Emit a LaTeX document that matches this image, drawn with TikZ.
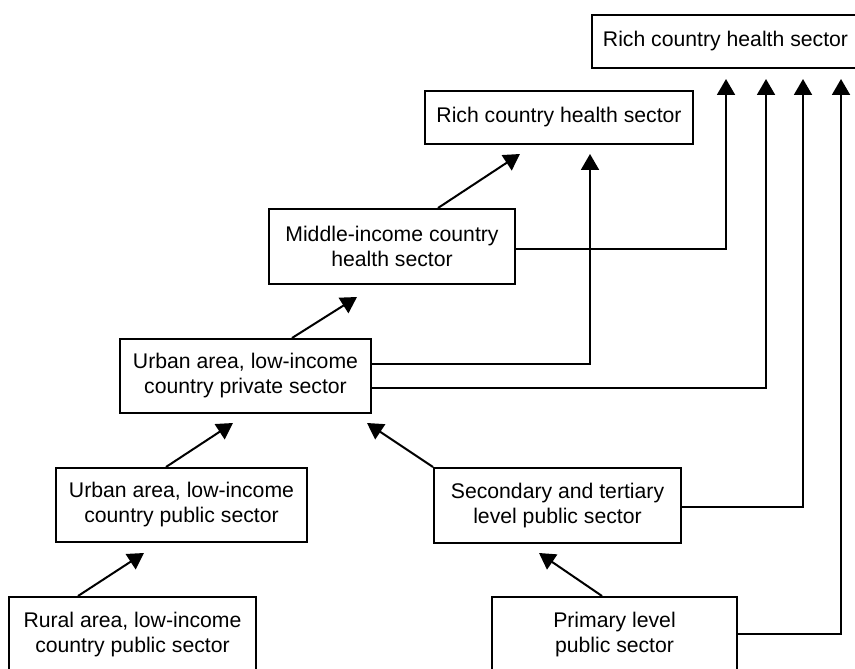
\documentclass[tikz,border=0pt]{standalone}
\usepackage{fontspec}
\setmainfont{Liberation Sans}
\usetikzlibrary{arrows.meta,calc}
\begin{document}
\begin{tikzpicture}[x=0.5pt,y=-0.5pt,
  box/.style={draw,line width=1pt,inner sep=0pt,align=center,
    font=\fontsize{10.6}{12.5}\selectfont},
  arr/.style={line width=1pt,-{Triangle[length=8pt,width=9pt]}}]
\useasboundingbox (0,0) rectangle (855,668);
\clip (0,0) rectangle (855,668);
% boxes
\node[box,minimum width=133.5pt,minimum height=26.5pt] (A) at (725.5,41.5) {Rich country health sector};
\node[box,minimum width=134pt,minimum height=26.5pt] (B) at (559,117.5) {Rich country health sector};
\node[box,minimum width=123pt,minimum height=37.5pt] (C) at (392,246.5) {Middle-income country\\health sector};
\node[box,minimum width=125.5pt,minimum height=37pt] (D) at (245.5,376) {Urban area, low-income\\country private sector};
\node[box,minimum width=125.5pt,minimum height=37pt] (E) at (181.5,505) {Urban area, low-income\\country public sector};
\node[box,minimum width=123.5pt,minimum height=37.5pt] (F) at (557.5,505.5) {Secondary and tertiary\\level public sector};
\node[box,minimum width=123.5pt,minimum height=37.5pt] (G) at (132.5,634.5) {Rural area, low-income\\country public sector};
\node[box,minimum width=122.5pt,minimum height=37.5pt] (H) at (614.5,634.5) {Primary level\\public sector};
% free arrow ends
\coordinate (tA1) at (726,79);
\coordinate (tA2) at (766,79);
\coordinate (tA3) at (803,79);
\coordinate (tA4) at (841,79);
\coordinate (tB1) at (520,154);
\coordinate (tB2) at (590,154);
\coordinate (tC) at (357,297);
\coordinate (tD1) at (233,423);
\coordinate (tD2) at (367,423);
\coordinate (tE) at (144,553);
\coordinate (tF) at (539,553);
% diagonal arrows
\draw[arr] ($(C.north west)+(170,0)$) -- (tB1);
\draw[arr] ($(D.north west)+(173,0)$) -- (tC);
\draw[arr] ($(E.north west)+(111,0)$) -- (tD1);
\draw[arr] (F.north west) -- (tD2);
\draw[arr] ($(G.north west)+(70,0)$) -- (tE);
\draw[arr] ($(H.north west)+(111,0)$) -- (tF);
% elbow arrows
\draw[arr] ($(C.east)+(0,2.5)$) -| (tA1);
\draw[arr] ($(D.east)+(0,-12)$) -| (tB2);
\draw[arr] ($(D.east)+(0,12)$) -| (tA2);
\draw[arr] ($(F.east)+(0,1.5)$) -| (tA3);
\draw[arr] ($(H.east)+(0,-0.5)$) -| (tA4);
\end{tikzpicture}
\end{document}
